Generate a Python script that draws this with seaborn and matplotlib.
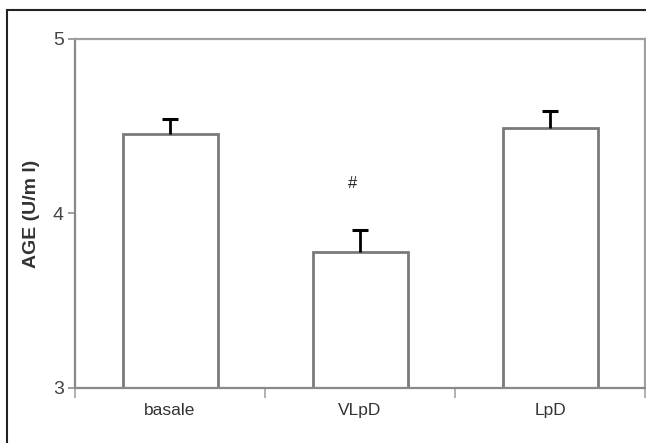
import matplotlib
matplotlib.use('Agg')

import matplotlib.pyplot as plt
import seaborn as sns
import pandas as pd
from matplotlib.patches import Rectangle
from matplotlib.ticker import FixedLocator

groups = ['basale', 'VLpD', 'LpD']
age_mean = [4.456, 3.779, 4.49]
age_err = [0.086, 0.126, 0.097]
marks = ['', '#', '']

df = pd.DataFrame({'group': groups, 'age': age_mean})

sns.set_style('white')
plt.rcParams['font.family'] = ['Liberation Sans', 'DejaVu Sans']

fig = plt.figure(figsize=(6.46, 4.43), dpi=100)
ax = fig.add_axes([0.1161, 0.1242, 0.8824, 0.7878])

sns.barplot(data=df, x='group', y='age', color='white', edgecolor='#7a7a7a',
            linewidth=2, width=0.5, errorbar=None, ax=ax)
for b in ax.patches:
    b.set_facecolor('white')

# upper error only: hide the lower caps
eb = ax.errorbar(range(len(groups)), age_mean, yerr=[[0] * len(groups), age_err],
                 fmt='none', ecolor='black', elinewidth=2, capsize=5.5, capthick=2.2)
eb[1][0].set_visible(False)

for i, m in enumerate(marks):
    if m:
        ax.text(i - 0.04, 4.17, m, ha='center', va='center', fontsize=12,
                color='#222222')

ax.set_ylim(3, 5)
ax.set_xlim(-0.5, 2.5)
ax.set_yticks([3, 4, 5])
ax.set_yticklabels(['3', '4', '5'])
ax.xaxis.set_minor_locator(FixedLocator([-0.5, 0.5, 1.5, 2.5]))
ax.tick_params(axis='x', which='major', length=0, pad=11, labelsize=12.5,
               labelcolor='#333333')
ax.tick_params(axis='x', which='minor', bottom=True, length=7, width=1.3,
               color='#aaaaaa', direction='out')
ax.tick_params(axis='y', left=True, length=5, width=1.3, color='#999999',
               labelsize=14, labelcolor='#444444', pad=3)

for s in ax.spines.values():
    s.set_visible(True)
    s.set_color('#a0a0a0')
    s.set_linewidth(1.6)
ax.spines['left'].set_color('#888888')
ax.spines['bottom'].set_color('#888888')

ax.set_xlabel('')
ax.set_ylabel('AGE (U/m l)', fontsize=14, fontweight='bold', color='#333333',
              labelpad=9)

fig.patches.append(Rectangle((7 / 646, -0.1), 1.2, (433 / 443) + 0.1,
                             transform=fig.transFigure, fill=False,
                             edgecolor='#222222', linewidth=1.5))

plt.savefig('out.png', dpi=100)
